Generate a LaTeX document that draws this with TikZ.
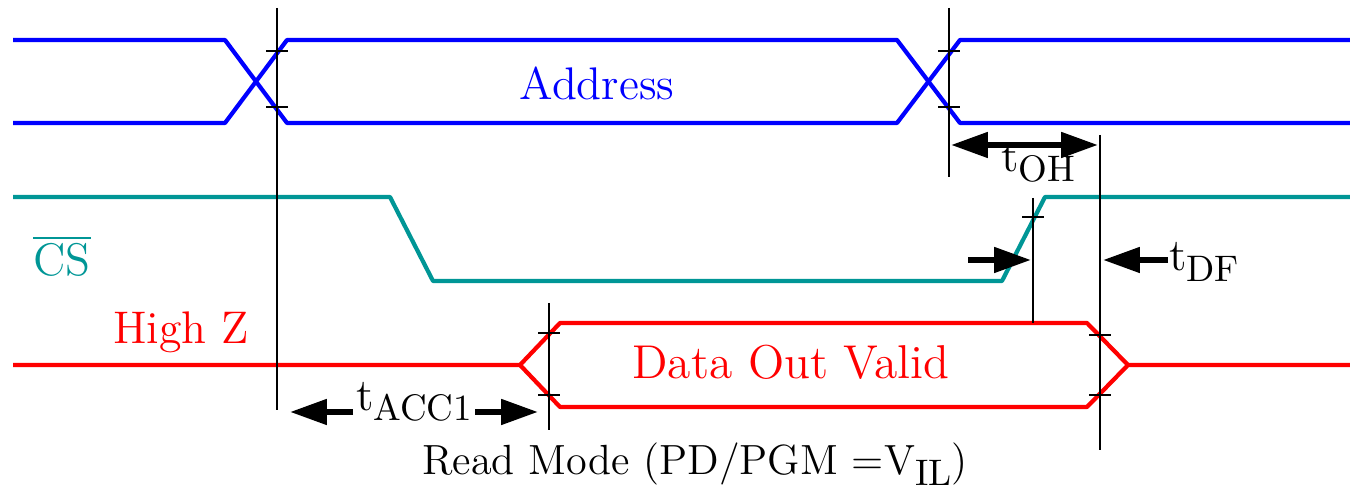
\documentclass[tikz,border=0pt]{standalone}
\usepackage{tikz}
\usetikzlibrary{arrows.meta}

\definecolor{csteal}{RGB}{0,150,150}
\newcommand{\lowsub}[1]{\raisebox{-3pt}{\fontsize{10.5}{12}\selectfont #1}}

\tikzset{
    sigline/.style={line width=1.2pt, line join=round},
    tickline/.style={black, line width=0.6pt},
    fat/.style={line width=1.7pt, -{Triangle[length=10.5pt, width=7pt]}},
    lbl/.style={font=\fontsize{13}{15}\selectfont, inner sep=0pt}
}

\begin{document}
\begin{tikzpicture}[x=0.01cm, y=-0.01cm]
        \useasboundingbox (0,0) rectangle (1350,489);

        % Address bus
        \draw[sigline, blue] (13,40) -- (225,40) -- (287,123) -- (897,123) -- (960,40) -- (1350,40);
        \draw[sigline, blue] (13,123) -- (225,123) -- (287,40) -- (897,40) -- (960,123) -- (1350,123);
        \node[lbl, text=blue] (addrlbl) at (597,83) {Address};

        % Chip select
        \draw[sigline, csteal] (13,197) -- (390,197) -- (433,281) -- (1002,281) -- (1045,197) -- (1350,197);
        \node[lbl, text=csteal] (cslbl) at (62,256) {$\overline{\hbox{CS}}$};

        % Data out
        \draw[sigline, red] (13,365) -- (520,365) -- (560,323) -- (1087,323) -- (1128,365) -- (1350,365);
        \draw[sigline, red] (520,365) -- (560,407) -- (1087,407) -- (1128,365);
        \node[lbl, text=red] (hizlbl) at (181,332) {High Z};
        \node[lbl, text=red, font=\fontsize{13.5}{15}\selectfont] (datalbl) at (791,362) {Data Out Valid};

        % Timing marks
        \draw[tickline] (277,8) -- (277,410);
        \draw[tickline] (949,8) -- (949,177);
        \draw[tickline] (1100,135) -- (1100,450);
        \draw[tickline] (1033,198) -- (1033,323);
        \draw[tickline] (549,303) -- (549,430);
        \foreach \x/\y in {277/51, 277/107, 949/51, 949/107, 549/333, 549/395, 1100/335, 1100/395, 1033/217}
            \draw[tickline] (\x-11,\y) -- (\x+11,\y);

        % tOH
        \coordinate (ohl) at (951,145);
        \coordinate (ohr) at (1098,145);
        \draw[fat, {Triangle[length=10.5pt, width=7pt]}-{Triangle[length=10.5pt, width=7pt]}] (ohl) -- (ohr);
        \node[lbl] (toh) at (1038,163) {t\lowsub{OH}};

        % tDF
        \coordinate (dfa) at (968,260);
        \coordinate (dfb) at (1031,260);
        \coordinate (dfc) at (1168,260);
        \coordinate (dfd) at (1103,260);
        \draw[fat] (dfa) -- (dfb);
        \draw[fat] (dfc) -- (dfd);
        \node[lbl] (tdf) at (1204,262) {t\lowsub{DF}};

        % tACC1
        \coordinate (acca) at (353,412);
        \coordinate (accb) at (290,412);
        \coordinate (accc) at (475,412);
        \coordinate (accd) at (538,412);
        \draw[fat] (acca) -- (accb);
        \draw[fat] (accc) -- (accd);
        \node[lbl] (tacc) at (414,402) {t\lowsub{ACC1}};

        % Caption
        \node[lbl, font=\fontsize{12}{14}\selectfont] (caption) at (695,464) {Read Mode (PD/PGM =V\lowsub{IL})};
    \end{tikzpicture}
\end{document}
